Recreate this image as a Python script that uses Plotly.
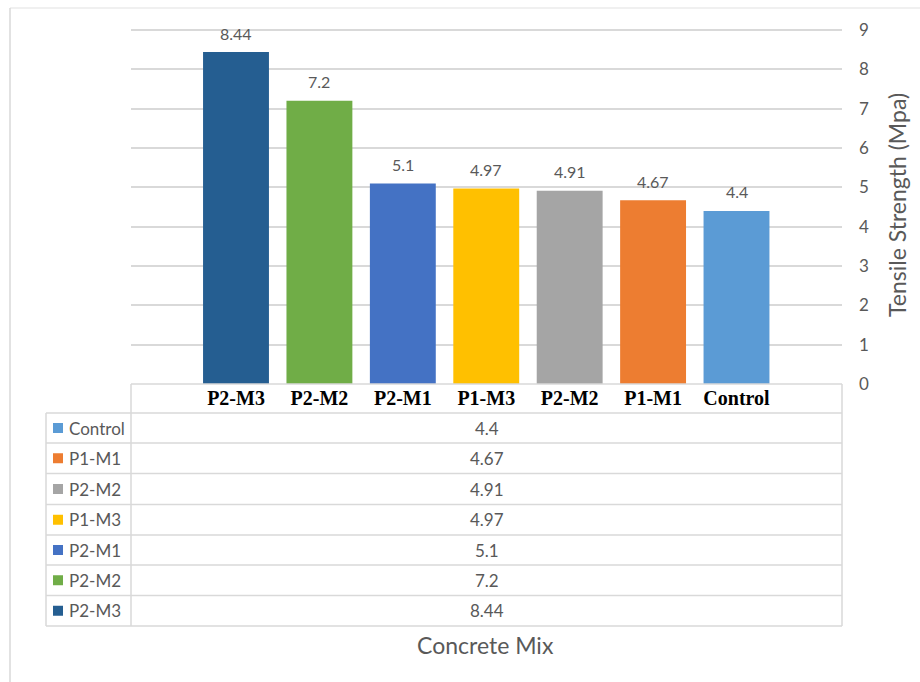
import plotly.graph_objects as go

# ---- data ----
mixes = ["P2-M3", "P2-M2", "P2-M1", "P1-M3", "P2-M2", "P1-M1", "Control"]
strength = [8.44, 7.2, 5.1, 4.97, 4.91, 4.67, 4.4]
colors = ["#255E91", "#70AD47", "#4472C4", "#FFC000", "#A5A5A5", "#ED7D31", "#5B9BD5"]
y_ticks = [0, 1, 2, 3, 4, 5, 6, 7, 8, 9]

W, H = 920, 682
GRAY = "#595959"
LINE = "#D9D9D9"
FONT = "Lato"

def px(x):
    return x / W

def py(y):
    return 1 - y / H

# layout geometry (pixels)
PL, PR = 131, 842
Y9, PB = 30, 384          # pixel rows of the 9 and 0 gridlines
YMAX = 9.15
PT = PB - YMAX * (PB - Y9) / 9
TABLE_L = 46
ROW_LINES = [413, 443, 473.5, 504.5, 535, 565, 595.5, 626]

xs = list(range(len(mixes)))

fig = go.Figure()
fig.add_trace(go.Bar(
    x=xs, y=strength, width=0.79,
    marker=dict(color=colors, line=dict(width=0)),
    showlegend=False, hoverinfo="skip",
))

annotations = []
# value labels above bars
for xi, v in zip(xs, strength):
    annotations.append(dict(
        x=xi, y=v, xref="x", yref="y", text=f"{v:g}", showarrow=False,
        yshift=19, yanchor="middle", font=dict(family=FONT, size=16, color=GRAY)))

# data table rows (reverse order)
rows = list(zip(mixes, strength, colors))[::-1]
shapes = []
for i, (name, v, c) in enumerate(rows):
    ytop, ybot = ROW_LINES[i], ROW_LINES[i + 1]
    yc = (ytop + ybot) / 2
    shapes.append(dict(type="rect", xref="paper", yref="paper",
                       x0=px(53), x1=px(63), y0=py(yc + 5), y1=py(yc - 5),
                       fillcolor=c, line=dict(width=0)))
    annotations.append(dict(x=px(67), y=py(yc), xref="paper", yref="paper",
                            text=name, showarrow=False, xanchor="left", yanchor="middle",
                            font=dict(family=FONT, size=17, color=GRAY)))
    annotations.append(dict(x=px((PL + PR) / 2), y=py(yc), xref="paper", yref="paper",
                            text=f"{v:g}", showarrow=False, xanchor="center", yanchor="middle",
                            font=dict(family=FONT, size=17, color=GRAY)))

# table lines
for yl in ROW_LINES:
    shapes.append(dict(type="line", xref="paper", yref="paper",
                       x0=px(TABLE_L), x1=px(PR), y0=py(yl), y1=py(yl),
                       line=dict(color=LINE, width=1.5)))
shapes.append(dict(type="line", xref="paper", yref="paper",
                   x0=px(PL), x1=px(PR), y0=py(PB), y1=py(PB), line=dict(color=LINE, width=1.5)))
shapes.append(dict(type="line", xref="paper", yref="paper",
                   x0=px(PL), x1=px(PL), y0=py(PB), y1=py(ROW_LINES[-1]), line=dict(color=LINE, width=1.5)))
shapes.append(dict(type="line", xref="paper", yref="paper",
                   x0=px(PR), x1=px(PR), y0=py(PB), y1=py(ROW_LINES[-1]), line=dict(color=LINE, width=1.5)))
shapes.append(dict(type="line", xref="paper", yref="paper",
                   x0=px(TABLE_L), x1=px(TABLE_L), y0=py(ROW_LINES[0]), y1=py(ROW_LINES[-1]), line=dict(color=LINE, width=1.5)))
# outer frame
shapes.append(dict(type="line", xref="paper", yref="paper",
                   x0=px(10), x1=1, y0=py(8), y1=py(8), line=dict(color="#EBEBEB", width=1.5)))
shapes.append(dict(type="line", xref="paper", yref="paper",
                   x0=px(10), x1=px(10), y0=py(8), y1=0, line=dict(color="#D9D9D9", width=1.5)))

# axis titles
annotations.append(dict(x=px(897), y=py(205), xref="paper", yref="paper",
                        text="Tensile Strength (Mpa)", textangle=-90, showarrow=False,
                        xanchor="center", yanchor="middle",
                        font=dict(family=FONT, size=23, color=GRAY)))
annotations.append(dict(x=px(486), y=py(645), xref="paper", yref="paper",
                        text="Concrete Mix", showarrow=False, xanchor="center", yanchor="middle",
                        font=dict(family=FONT, size=23, color=GRAY)))

x0_px, x6_px = 236, 736.5
unit = (x6_px - x0_px) / 6
xr = [-(x0_px - PL) / unit, 6 + (PR - x6_px) / unit]

fig.update_layout(
    width=W, height=H, margin=dict(l=0, r=0, t=0, b=0, pad=0), autosize=False,
    paper_bgcolor="white", plot_bgcolor="white",
    xaxis=dict(domain=[px(PL), px(PR)], range=xr, tickvals=xs, ticktext=mixes,
               showgrid=False, zeroline=False, showline=False, ticks="", automargin=False,
               tickfont=dict(family="Liberation Serif", size=20, color="black", weight="bold"),
               ticklabelstandoff=0, fixedrange=True),
    yaxis=dict(domain=[py(PB), py(PT)], range=[0, YMAX], side="right", tickvals=y_ticks,
               showgrid=True, gridcolor=LINE, gridwidth=1.5, zeroline=False, automargin=False,
               showline=False, ticks="", ticklabelstandoff=16, fixedrange=True,
               tickfont=dict(family=FONT, size=17, color=GRAY)),
    shapes=shapes, annotations=annotations,
    bargap=0.2,
)

fig.write_html("out.html", config={"displayModeBar": False},
               post_script="document.body.style.margin='0';document.body.style.overflow='hidden';")
